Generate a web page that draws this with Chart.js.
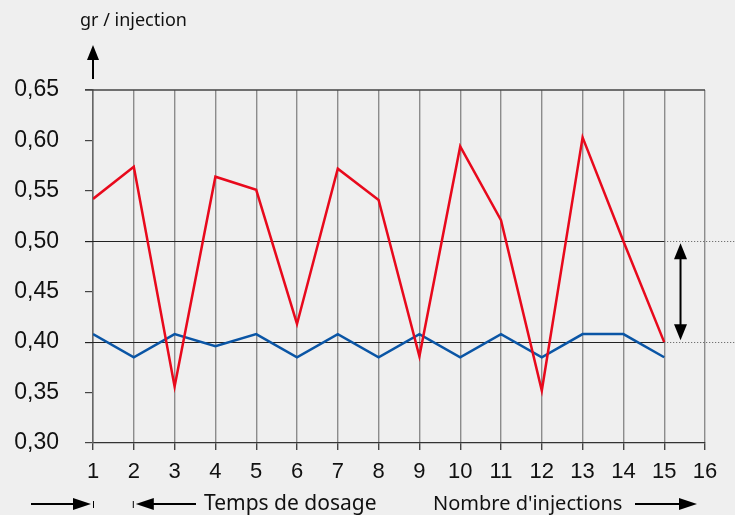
<!DOCTYPE html>
<html>
<head>
<meta charset="utf-8">
<script src="https://cdn.jsdelivr.net/npm/chart.js@4.4.1/dist/chart.umd.min.js"></script>
<style>
  html, body { margin: 0; padding: 0; background: #efefef; }
  #wrap { width: 735px; height: 515px; position: relative; }
  canvas { display: block; }
</style>
</head>
<body>
<div id="wrap"><canvas id="c" width="735" height="515"></canvas></div>
<script>
// ---- data ----
const injections = [1, 2, 3, 4, 5, 6, 7, 8, 9, 10, 11, 12, 13, 14, 15];
const doseSansRegulation = [0.542, 0.574, 0.356, 0.564, 0.551, 0.418, 0.572, 0.541, 0.386, 0.594, 0.521, 0.352, 0.603, 0.500, 0.400];
const doseAvecRegulation = [0.408, 0.385, 0.408, 0.396, 0.408, 0.385, 0.408, 0.385, 0.408, 0.385, 0.408, 0.385, 0.408, 0.408, 0.385];
const xTickLabels = ['1','2','3','4','5','6','7','8','9','10','11','12','13','14','15','16'];
const yTickValues = [0.30, 0.35, 0.40, 0.45, 0.50, 0.55, 0.60, 0.65];
const toleranceBand = [0.40, 0.50];
const yAxisTitle = 'gr / injection';
const xTextLeft = 'Temps de dosage';
const xTextRight = "Nombre d'injections";

const redPts = injections.map((x, i) => ({ x: x, y: doseSansRegulation[i] }));
const bluePts = injections.map((x, i) => ({ x: x, y: doseAvecRegulation[i] }));

function arrowHead(ctx, tipX, tipY, dir, len, half) {
  ctx.beginPath();
  ctx.moveTo(tipX, tipY);
  if (dir === 'up') { ctx.lineTo(tipX - half, tipY + len); ctx.lineTo(tipX + half, tipY + len); }
  if (dir === 'down') { ctx.lineTo(tipX - half, tipY - len); ctx.lineTo(tipX + half, tipY - len); }
  if (dir === 'left') { ctx.lineTo(tipX + len, tipY - half); ctx.lineTo(tipX + len, tipY + half); }
  if (dir === 'right') { ctx.lineTo(tipX - len, tipY - half); ctx.lineTo(tipX - len, tipY + half); }
  ctx.closePath();
  ctx.fill();
}

const decorPlugin = {
  id: 'decor',
  beforeDatasetsDraw(chart) {
    const ctx = chart.ctx;
    const xs = chart.scales.x, ys = chart.scales.y;
    const left = xs.getPixelForValue(1) - 8;
    const right = xs.getPixelForValue(16);
    ctx.save();
    ctx.strokeStyle = '#444';
    ctx.lineWidth = 1.3;
    const yTop = ys.getPixelForValue(0.65);
    ctx.beginPath(); ctx.moveTo(left, yTop); ctx.lineTo(right, yTop); ctx.stroke();
    const x15 = xs.getPixelForValue(15);
    toleranceBand.forEach(v => {
      const py = Math.round(ys.getPixelForValue(v)) + 0.5;
      ctx.setLineDash([]);
      ctx.strokeStyle = '#222';
      ctx.lineWidth = 1.2;
      ctx.beginPath(); ctx.moveTo(left, py); ctx.lineTo(x15, py); ctx.stroke();
      ctx.setLineDash([1, 2]);
      ctx.strokeStyle = '#555';
      ctx.lineWidth = 1;
      ctx.beginPath(); ctx.moveTo(x15, py); ctx.lineTo(chart.width, py); ctx.stroke();
    });
    ctx.restore();
  },
  afterDraw(chart) {
    const ctx = chart.ctx;
    const xs = chart.scales.x, ys = chart.scales.y;
    ctx.save();
    ctx.fillStyle = '#000';
    ctx.strokeStyle = '#000';
    const ax = xs.getPixelForValue(15.4);
    const yA = ys.getPixelForValue(toleranceBand[1]) + 2;
    const yB = ys.getPixelForValue(toleranceBand[0]) - 2;
    ctx.lineWidth = 2;
    ctx.beginPath(); ctx.moveTo(ax, yA + 14); ctx.lineTo(ax, yB - 14); ctx.stroke();
    arrowHead(ctx, ax, yA, 'up', 16, 6.5);
    arrowHead(ctx, ax, yB, 'down', 16, 6.5);

    const x1 = xs.getPixelForValue(1);
    ctx.lineWidth = 2;
    ctx.beginPath(); ctx.moveTo(x1, 79); ctx.lineTo(x1, 56); ctx.stroke();
    arrowHead(ctx, x1, 45, 'up', 15, 6);
    ctx.font = '18px "Noto Sans", "Open Sans", sans-serif';
    ctx.textBaseline = 'middle';
    ctx.textAlign = 'left';
    ctx.fillStyle = '#111';
    ctx.fillText(yAxisTitle, 80, 21);

    const yb = 504;
    ctx.fillStyle = '#000';
    ctx.lineWidth = 2;
    ctx.beginPath(); ctx.moveTo(31, yb); ctx.lineTo(76, yb); ctx.stroke();
    arrowHead(ctx, x1 - 2, yb, 'right', 18, 6);
    ctx.lineWidth = 1;
    ctx.beginPath(); ctx.moveTo(x1 + 0.5, yb - 3); ctx.lineTo(x1 + 0.5, yb + 4); ctx.stroke();
    const x2 = xs.getPixelForValue(2);
    ctx.beginPath(); ctx.moveTo(x2 - 0.5, yb - 3); ctx.lineTo(x2 - 0.5, yb + 4); ctx.stroke();
    ctx.lineWidth = 2;
    arrowHead(ctx, x2 + 2, yb, 'left', 18, 6);
    ctx.beginPath(); ctx.moveTo(x2 + 18, yb); ctx.lineTo(196, yb); ctx.stroke();
    ctx.beginPath(); ctx.moveTo(635, yb); ctx.lineTo(680, yb); ctx.stroke();
    arrowHead(ctx, 697, yb, 'right', 18, 6);

    ctx.textBaseline = 'middle';
    ctx.fillStyle = '#111';
    ctx.textAlign = 'left';
    ctx.font = '21px "Noto Sans", "Open Sans", sans-serif';
    ctx.fillText(xTextLeft, 204, yb);
    ctx.font = '20px "Noto Sans", "Open Sans", sans-serif';
    ctx.fillText(xTextRight, 433, yb);
    ctx.restore();
  }
};

new Chart(document.getElementById('c'), {
  type: 'line',
  data: {
    datasets: [
      { label: 'Sans régulation', data: redPts, borderColor: '#e8091c', borderWidth: 2.5, pointRadius: 0, tension: 0, fill: false },
      { label: 'Avec régulation', data: bluePts, borderColor: '#0a55a5', borderWidth: 2.5, pointRadius: 0, tension: 0, fill: false }
    ]
  },
  options: {
    responsive: false,
    animation: false,
    devicePixelRatio: 1,
    layout: { padding: { top: 90, right: 30, left: 0, bottom: 0 } },
    plugins: { legend: { display: false }, tooltip: { enabled: false } },
    scales: {
      x: {
        type: 'linear',
        min: 1, max: 16,
        afterFit(scale) { scale.height = 72; },
        afterBuildTicks(scale) { scale.ticks = xTickLabels.map(v => ({ value: Number(v) })); },
        ticks: {
          callback: (v) => String(v),
          color: '#111',
          padding: 9,
          maxRotation: 0,
          autoSkip: false,
          font: { family: '"Liberation Sans", Arial, sans-serif', size: 22 }
        },
        grid: { color: '#8c8c8c', lineWidth: 1.4, tickLength: 7, tickColor: '#444', drawTicks: true },
        border: { display: true, color: '#333', width: 1.3 }
      },
      y: {
        min: 0.30, max: 0.65,
        afterFit(scale) { scale.width = 93; },
        afterBuildTicks(scale) { scale.ticks = yTickValues.map(v => ({ value: v })); },
        ticks: {
          callback: (v) => Number(v).toFixed(2).replace('.', ','),
          color: '#111',
          padding: 26,
          font: { family: '"Liberation Sans", Arial, sans-serif', size: 23 }
        },
        grid: { drawOnChartArea: false, drawTicks: true, tickLength: 8, tickColor: '#444', lineWidth: 1.2 },
        border: { display: true, color: '#666', width: 1.5 }
      }
    }
  },
  plugins: [decorPlugin]
});
</script>
</body>
</html>
